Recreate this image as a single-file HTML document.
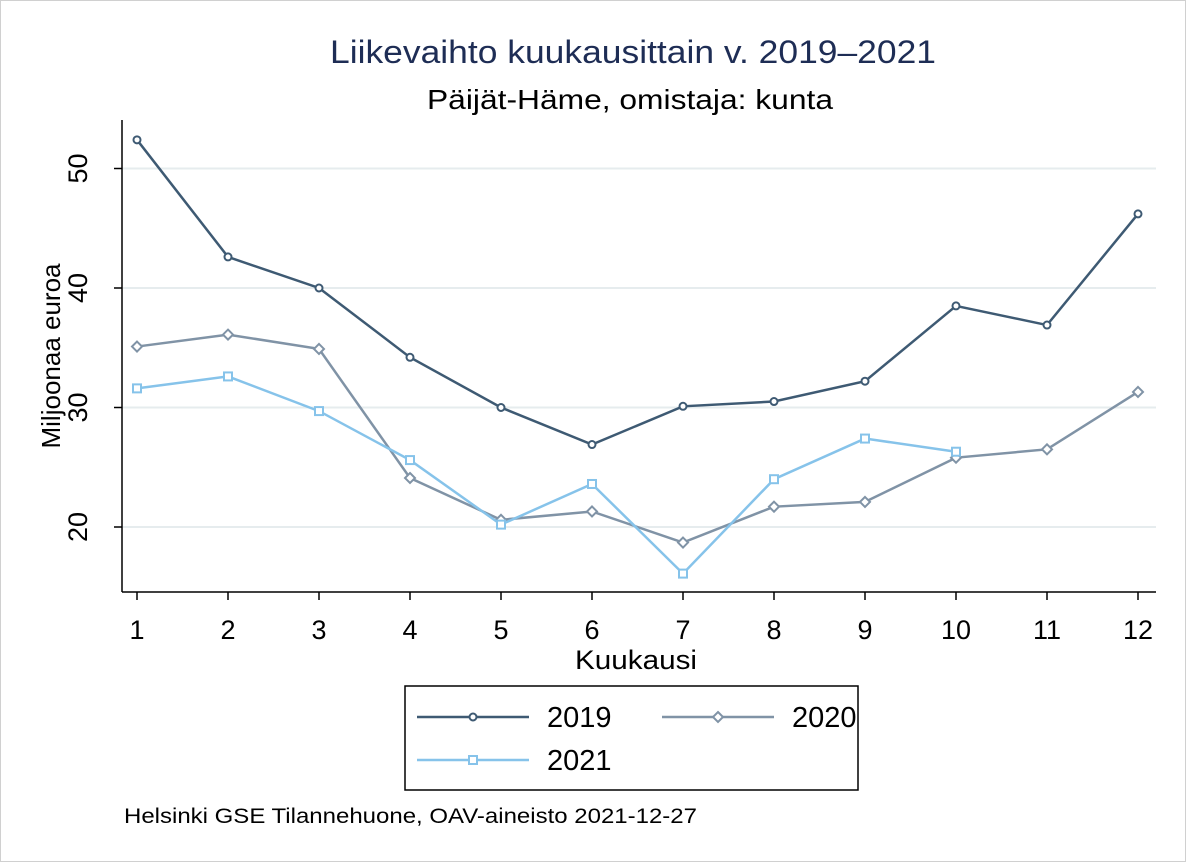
<!DOCTYPE html>
<html><head><meta charset="utf-8"><style>
body{margin:0;background:#fff;}
svg{display:block;font-family:"Liberation Sans",Arial,sans-serif;}
</style></head><body>
<svg id="chart" width="1186" height="862" viewBox="0 0 1186 862">
<rect x="0.5" y="0.5" width="1185" height="861" fill="#fff" stroke="#d0d0d0"/>
<text x="330" y="63" textLength="606" lengthAdjust="spacingAndGlyphs" font-size="32" fill="#1e2d55">Liikevaihto kuukausittain v. 2019–2021</text>
<text x="427" y="109" textLength="406" lengthAdjust="spacingAndGlyphs" font-size="28" fill="#000">Päijät-Häme, omistaja: kunta</text>
<g id="grid"></g>
<line x1="122" y1="120" x2="122" y2="592" stroke="#000" stroke-width="1.5"/>
<line x1="122" y1="592" x2="1156" y2="592" stroke="#000" stroke-width="1.5"/>
<g id="yticks"></g><g id="xticks"></g><g id="series"></g>
<text x="575" y="669" textLength="122" lengthAdjust="spacingAndGlyphs" font-size="27">Kuukausi</text>
<text transform="translate(60,356) rotate(-90)" text-anchor="middle" font-size="26">Miljoonaa euroa</text>
<rect x="405" y="686" width="453" height="104" fill="#fff" stroke="#000" stroke-width="1.5"/>
<g id="legend"></g>
<text x="124" y="823" textLength="573" lengthAdjust="spacingAndGlyphs" font-size="21">Helsinki GSE Tilannehuone, OAV-aineisto 2021-12-27</text>
</svg>
<script>
const months=[1,2,3,4,5,6,7,8,9,10,11,12];
const yTicks=[20,30,40,50];
const s2019=[52.4,42.6,40.0,34.2,30.0,26.9,30.1,30.5,32.2,38.5,36.9,46.2];
const s2020=[35.1,36.1,34.9,24.1,20.6,21.3,18.7,21.7,22.1,25.8,26.5,31.3];
const s2021=[31.6,32.6,29.7,25.6,20.2,23.6,16.1,24.0,27.4,26.3];
const NS="http://www.w3.org/2000/svg";
const xS=m=>137+(m-1)*(1138-137)/11;
const yS=v=>527-(v-20)*11.95;
function mk(t,a,p){const e=document.createElementNS(NS,t);for(const k in a)e.setAttribute(k,a[k]);p.appendChild(e);return e;}
const grid=document.getElementById('grid'),yt=document.getElementById('yticks'),xt=document.getElementById('xticks');
yTicks.forEach(v=>{
 const g=mk('line',{x1:122,x2:1156,y1:yS(v),y2:yS(v),stroke:'#e6ecee','stroke-width':2},grid);
 
 
 const t=mk('line',{x1:114,x2:122,y1:yS(v),y2:yS(v),stroke:'#000','stroke-width':1.5},yt);
 
 
 const l=mk('text',{transform:`translate(87,${yS(v)}) rotate(-90)`,'text-anchor':'middle','font-size':27},yt);
 l.textContent=v;
 
 
});
months.forEach(m=>{
 const t=mk('line',{x1:xS(m),x2:xS(m),y1:592,y2:600,stroke:'#000','stroke-width':1.5},xt);
 
 
 const l=mk('text',{x:xS(m),y:639,'text-anchor':'middle','font-size':27},xt);
 l.textContent=m;
 
 
});
function marker(type,x,y,c,p){
 if(type==='circle')return mk('circle',{cx:x,cy:y,r:3.5,fill:'#fff',stroke:c,'stroke-width':2},p);
 if(type==='diamond')return mk('path',{d:`M${x} ${y-5}L${x+5} ${y}L${x} ${y+5}L${x-5} ${y}Z`,fill:'#fff',stroke:c,'stroke-width':2},p);
 return mk('rect',{x:x-4,y:y-4,width:8,height:8,fill:'#fff',stroke:c,'stroke-width':2},p);
}
const series=[{name:'2019',d:s2019,c:'#3e5a73',m:'circle'},{name:'2020',d:s2020,c:'#8093a6',m:'diamond'},{name:'2021',d:s2021,c:'#86c3ea',m:'square'}];
const sg=document.getElementById('series');
series.forEach(s=>{
 const g=mk('g',{},sg);
 
 
 const pl=mk('polyline',{points:s.d.map((v,i)=>xS(months[i])+','+yS(v)).join(' '),fill:'none',stroke:s.c,'stroke-width':2.5},g);
 
 
 s.d.forEach((v,i)=>{
  const mm=marker(s.m,xS(months[i]),yS(v),s.c,g);
  
  
 });
});
const lg=document.getElementById('legend');
const pos=[[417,717],[662,717],[417,760]];
series.forEach((s,i)=>{
 const [x,y]=pos[i];
 const g=mk('g',{},lg);
 
 
 mk('line',{x1:x,x2:x+112,y1:y,y2:y,stroke:s.c,'stroke-width':2.5},g);
 marker(s.m,x+56,y,s.c,g);
 const t=mk('text',{x:x+130,y:y+10,'font-size':29},g);
 t.textContent=s.name;
});
</script>
</body></html>
